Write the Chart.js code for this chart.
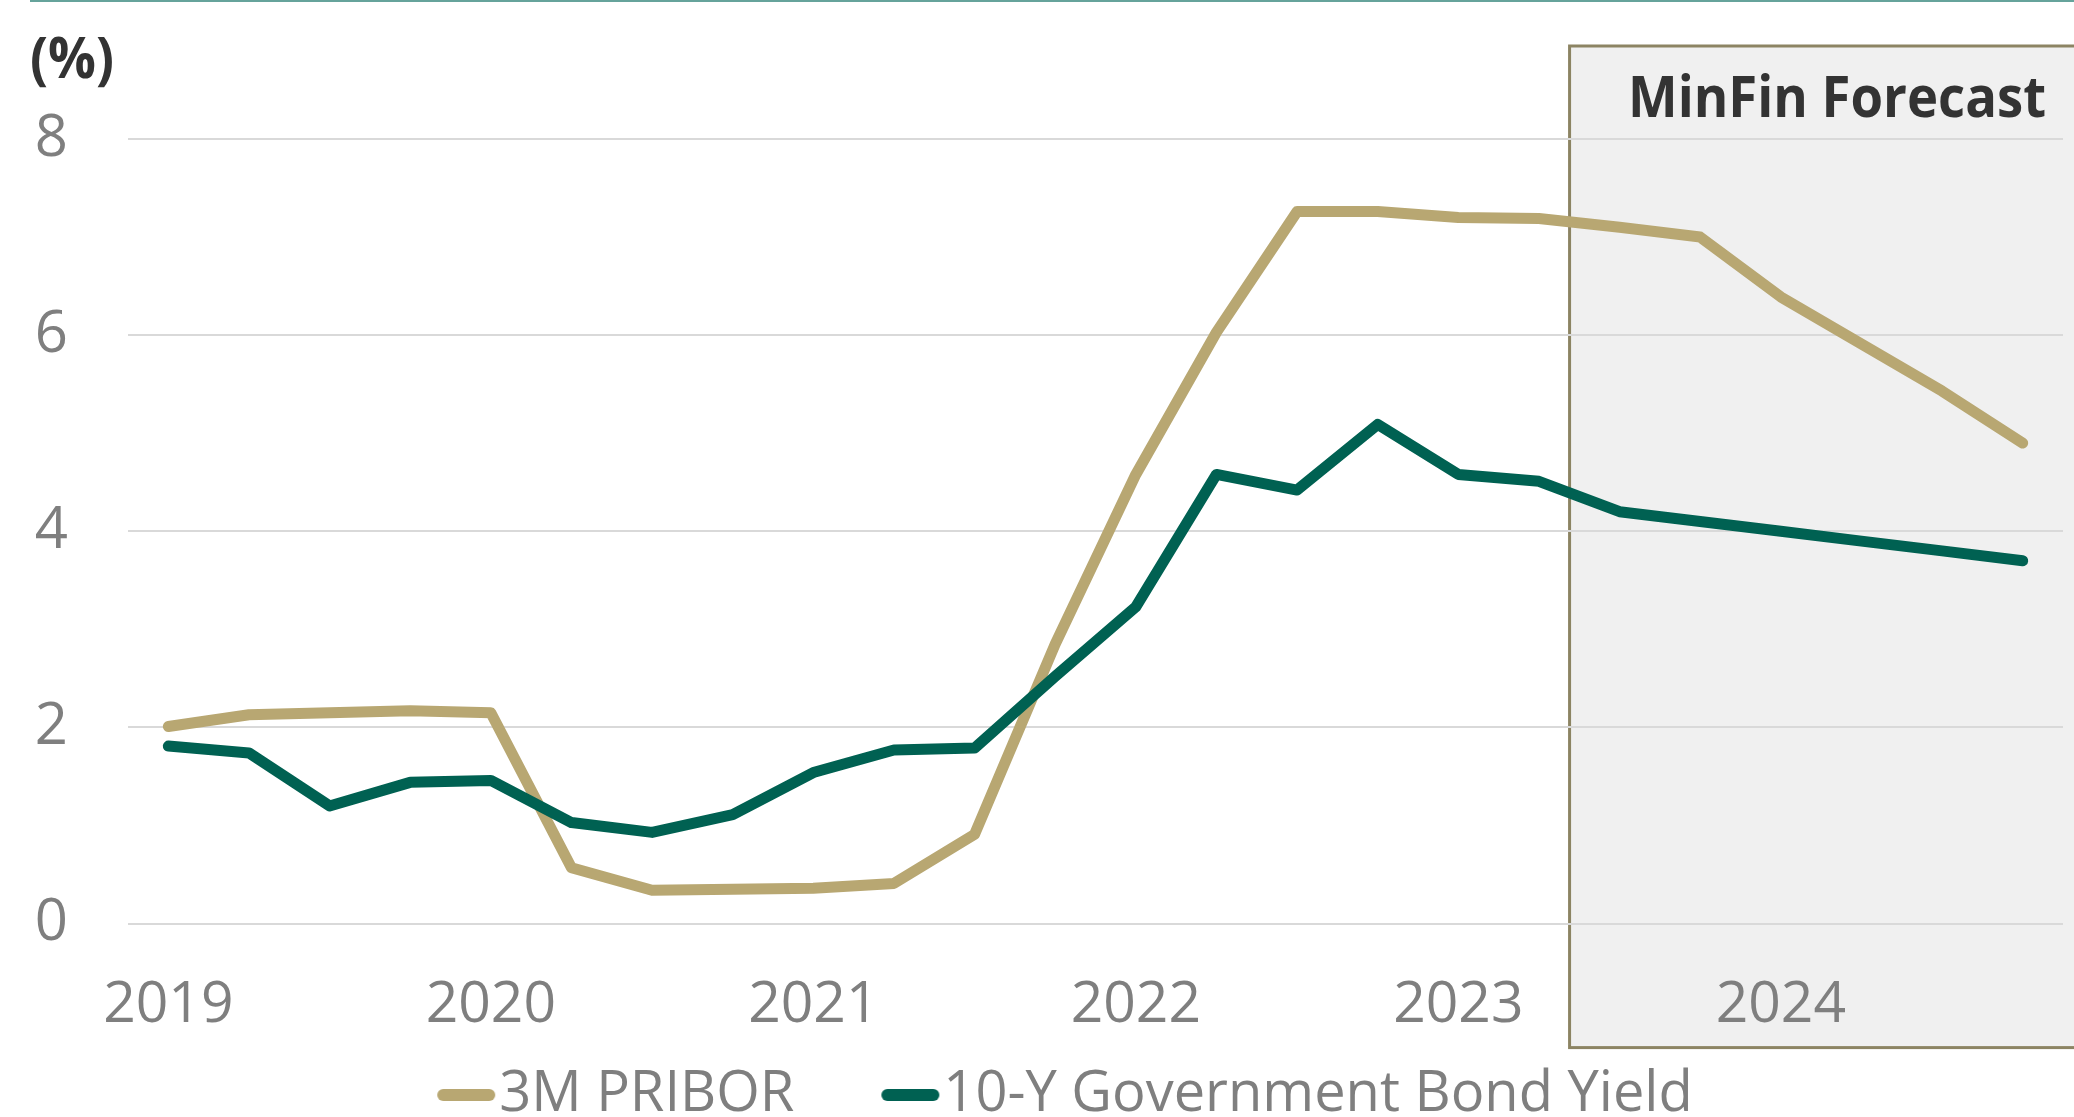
<!doctype html>
<html lang="en">

<head>
  <meta charset="utf-8">
  <title>3M PRIBOR and 10-Y Government Bond Yield</title>
  <script src="https://cdn.jsdelivr.net/npm/chart.js"></script>
  <style>
    body { margin: 0; background: #fff; }
    canvas { display: block; }
  </style>
</head>

<body>
  <canvas id="rates" width="2074" height="1117"></canvas>

<script>
  //--------------------------------- Data ---------------------------------
  const quarters = [
    '2019 Q1', '2019 Q2', '2019 Q3', '2019 Q4',
    '2020 Q1', '2020 Q2', '2020 Q3', '2020 Q4',
    '2021 Q1', '2021 Q2', '2021 Q3', '2021 Q4',
    '2022 Q1', '2022 Q2', '2022 Q3', '2022 Q4',
    '2023 Q1', '2023 Q2', '2023 Q3', '2023 Q4',
    '2024 Q1', '2024 Q2', '2024 Q3', '2024 Q4'
  ]
  const pribor = [
    2.01, 2.13, 2.15, 2.17,
    2.15, 0.57, 0.34, 0.35,
    0.36, 0.41, 0.91, 2.85,
    4.58, 6.03, 7.26, 7.26,
    7.20, 7.19, 7.10, 7.00,
    6.39, 5.91, 5.43, 4.90
  ]
  const bondYield = [
    1.81, 1.74, 1.20, 1.44,
    1.46, 1.03, 0.93, 1.11,
    1.54, 1.77, 1.79, 2.52,
    3.23, 4.58, 4.42, 5.09,
    4.58, 4.51, 4.20, 4.10,
    4.00, 3.90, 3.80, 3.70
  ]
  const seriesNames = ['3M PRIBOR', '10-Y Government Bond Yield']
  const yTicks = [0, 2, 4, 6, 8]
  const forecastStart = 17.38   // position on the quarter axis where the shaded forecast starts
  const forecastLabel = 'MinFin Forecast'
  const unitLabel = '(%)'

  const tan = '#b8a772'
  const green = '#006152'
  const grey = '#7f7f7f'

  Chart.defaults.font.family = "'Open Sans', sans-serif"

  // legend swatch: short thick line with round ends, sitting right before the text
  const legendMarker = (color) => {
    const c = document.createElement('canvas')
    c.width = 144
    c.height = 16
    const g = c.getContext('2d')
    g.strokeStyle = color
    g.lineWidth = 12
    g.lineCap = 'round'
    g.beginPath()
    g.moveTo(91, 8)
    g.lineTo(137, 8)
    g.stroke()
    return c
  }

  // grey forecast panel, its title, the unit label and the rule at the top
  const forecastBox = {
    id: 'forecastBox',
    beforeDraw: (chart) => {
      const { ctx, chartArea, scales } = chart
      const left = scales.x.getPixelForValue(forecastStart)
      const top = chartArea.top - 93
      const bottom = chartArea.bottom + 124
      ctx.save()
      ctx.strokeStyle = '#66a39b'
      ctx.lineWidth = 2
      ctx.beginPath()
      ctx.moveTo(30, 1)
      ctx.lineTo(chart.width, 1)
      ctx.stroke()

      ctx.fillStyle = '#f0f0f0'
      ctx.fillRect(left, top, chart.width - left, bottom - top)
      ctx.strokeStyle = '#8c8463'
      ctx.lineWidth = 3
      ctx.strokeRect(left, top, chart.width - left + 10, bottom - top)

      ctx.fillStyle = '#333333'
      ctx.textBaseline = 'alphabetic'
      ctx.font = "bold 57px 'Open Sans'"
      ctx.textAlign = 'right'
      ctx.fillText(forecastLabel, chartArea.right - 17, top + 71, 418)
      ctx.font = "bold 58px 'Open Sans'"
      ctx.textAlign = 'left'
      ctx.fillText(unitLabel, 30, 78, 84)
      ctx.restore()
    }
  }

  //--------------------------------- Chart ---------------------------------
  const ctx = document.getElementById('rates')
  new Chart(ctx, {
    type: 'line',
    data: {
      labels: quarters,
      datasets: [{
        label: seriesNames[0],
        data: pribor,
        borderColor: tan,
        backgroundColor: tan,
        borderWidth: 11,
        borderCapStyle: 'round',
        borderJoinStyle: 'round',
        pointRadius: 0,
        pointStyle: legendMarker(tan),
        tension: 0,
        order: 1
      }, {
        label: seriesNames[1],
        data: bondYield,
        borderColor: green,
        backgroundColor: green,
        borderWidth: 11,
        borderCapStyle: 'round',
        borderJoinStyle: 'round',
        pointRadius: 0,
        pointStyle: legendMarker(green),
        tension: 0,
        order: 0
      }]
    },
    options: {
      responsive: false,
      animation: false,
      layout: { padding: { top: 139, left: 7, right: 11, bottom: 0 } },
      scales: {
        x: {
          offset: true,
          grid: { display: false, drawTicks: false },
          border: { display: false },
          ticks: {
            autoSkip: false,
            maxRotation: 0,
            color: grey,
            font: { size: 57 },
            padding: 48,
            callback: function (value) {
              const q = this.getLabelForValue(value)
              return q.endsWith('Q1') ? q.slice(0, 4) : ''
            }
          },
          afterFit: (scale) => {
            // Chart.js counts the tick padding twice and pads the ends for the first label
            scale.height -= scale.options.ticks.padding
            scale.paddingLeft = 0
            scale.paddingRight = 0
          }
        },
        y: {
          min: yTicks[0],
          max: yTicks[yTicks.length - 1],
          border: { display: false },
          grid: { color: '#d9d9d9', lineWidth: 2, drawTicks: false },
          ticks: {
            stepSize: yTicks[1] - yTicks[0],
            color: grey,
            font: { size: 58 },
            padding: 60
          },
          afterFit: (scale) => { scale.width = 121 }
        }
      },
      plugins: {
        tooltip: { enabled: false },
        legend: {
          position: 'bottom',
          maxHeight: 77,
          labels: {
            usePointStyle: true,
            pointStyleWidth: 94,
            padding: 27,
            color: grey,
            font: { size: 56 },
            sort: (a, b) => a.datasetIndex - b.datasetIndex
          }
        }
      }
    },
    plugins: [forecastBox]
  })
</script>
</body>

</html>
